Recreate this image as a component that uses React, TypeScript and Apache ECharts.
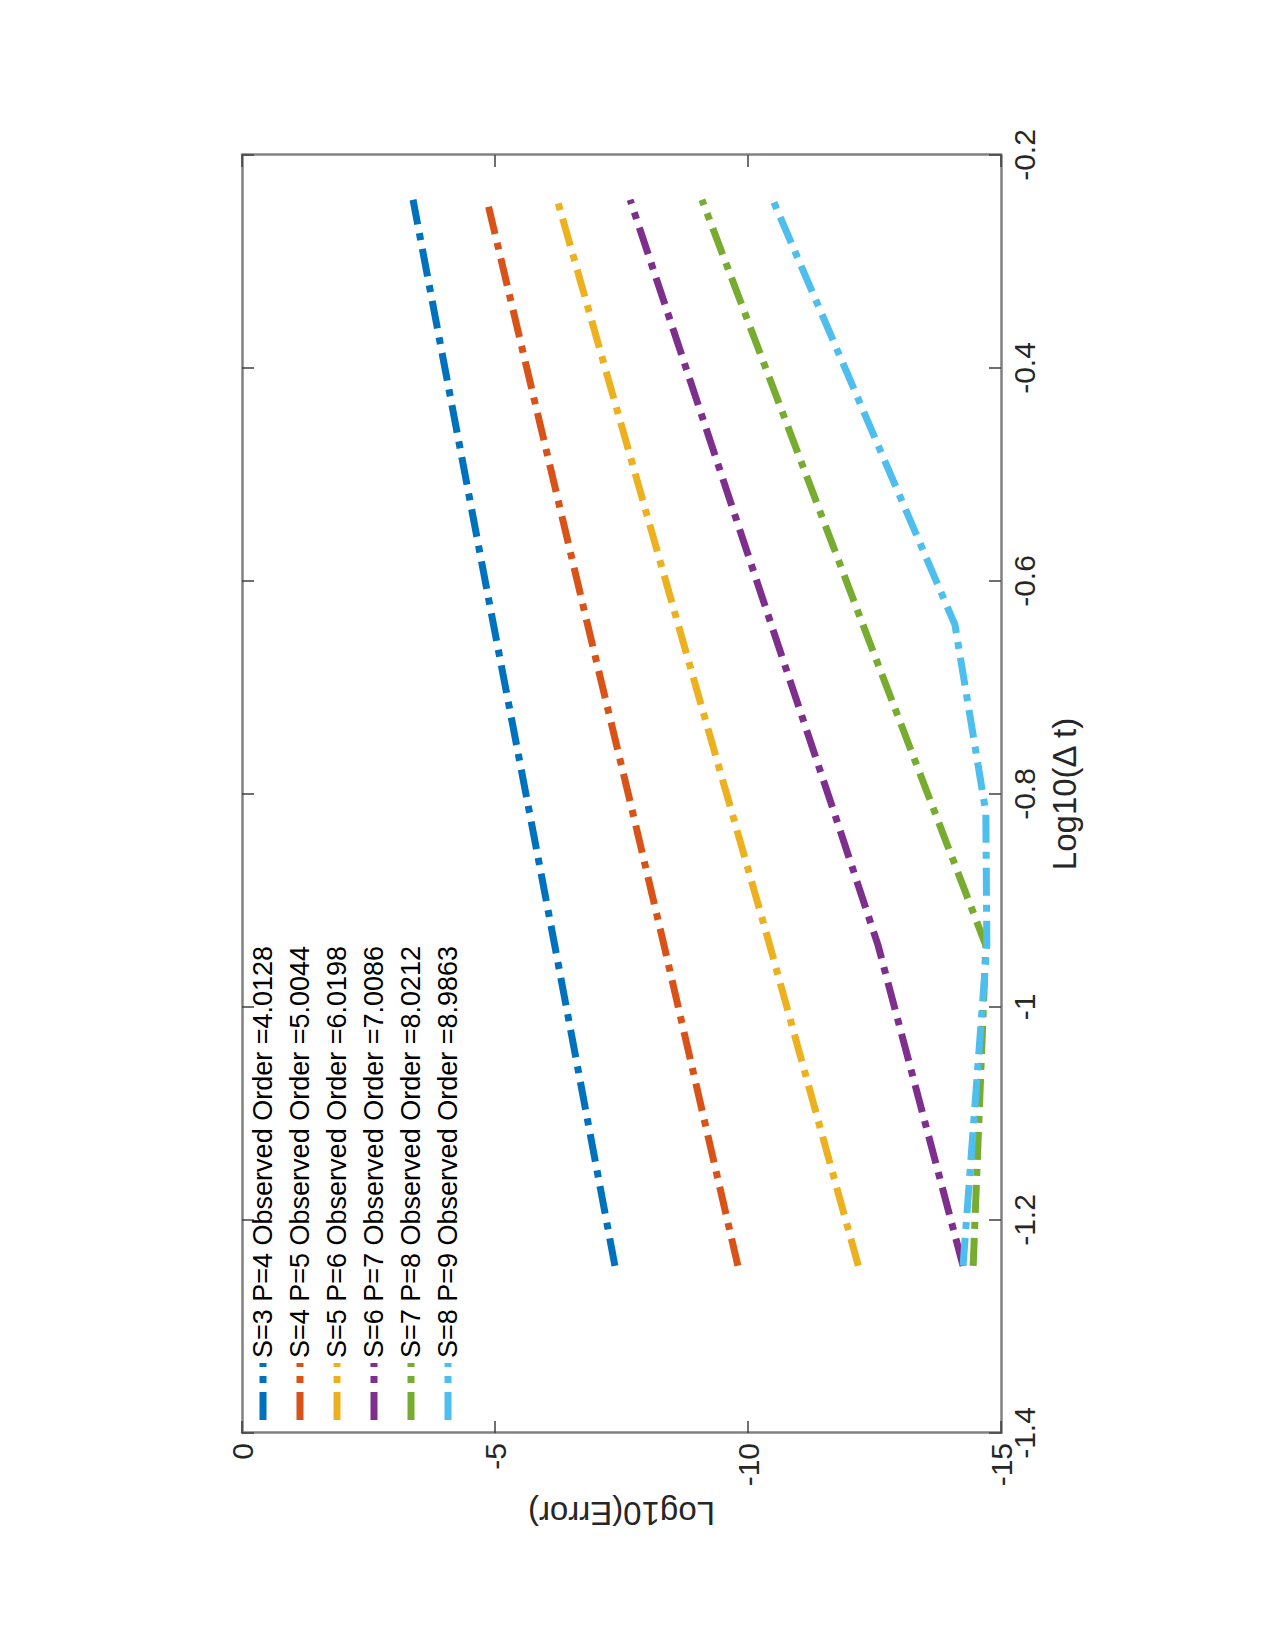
import React, { useEffect, useRef } from "react";
import * as echarts from "echarts";

// Log10(Δ t) sample points (ascending)
const logDt = [-1.243, -0.942, -0.817, -0.641, -0.242];

const seriesNames = [
  "S=3 P=4 Observed Order =4.0128",
  "S=4 P=5 Observed Order =5.0044",
  "S=5 P=6 Observed Order =6.0198",
  "S=6 P=7 Observed Order =7.0086",
  "S=7 P=8 Observed Order =8.0212",
  "S=8 P=9 Observed Order =8.9863",
];

// Log10(Error) values at each logDt point
const errS3 = [-7.37, -6.18, -5.68, -4.97, -3.38];
const errS4 = [-9.8, -8.34, -7.72, -6.83, -4.84];
const errS5 = [-12.18, -10.43, -9.68, -8.62, -6.23];
const errS6 = [-14.25, -12.57, -11.7, -10.46, -7.67];
const errS7 = [-14.45, -14.7, -13.69, -12.27, -9.09];
const errS8 = [-14.25, -14.72, -14.7, -14.09, -10.49];

const xTicksMin = -1.4;
const xTicksMax = -0.2;
const xTickStep = 0.2;
const yTicksMin = -15;
const yTicksMax = 0;
const yTickStep = 5;

const colors = ["#0072BD", "#D95319", "#EDB120", "#7E2F8E", "#77AC30", "#4DBEEE"];

const FONT = "'Liberation Sans', Arial, Helvetica, sans-serif";

const mkLine = () => ({ show: true, onZero: false, lineStyle: { color: "#808080", width: 2.5 } });
const mkTick = () => ({ show: true, inside: true, length: 12, lineStyle: { color: "#404040", width: 1.5 } });

export default function App() {
  const ref = useRef<HTMLDivElement>(null);

  useEffect(() => {
    if (!ref.current) return;
    const chart = echarts.init(ref.current, undefined, {
      renderer: "svg",
      width: 1650,
      height: 1275,
    });
    const allErr = [errS3, errS4, errS5, errS6, errS7, errS8];
    const option: any = {
      animation: false,
      backgroundColor: "#ffffff",
      textStyle: { fontFamily: FONT },
      grid: { left: 217, top: 242, width: 1278, height: 759, containLabel: false },
      legend: {
        orient: "vertical",
        left: 230,
        top: 248,
        icon: "path://M0 0H28V7H0Z M37 0H44V7H37Z M53 0H57V7H53Z",
        itemWidth: 57,
        itemHeight: 7,
        itemGap: 7,
        padding: 0,
        itemStyle: { borderWidth: 0 },
        textStyle: { fontSize: 27, lineHeight: 30, color: "#000", fontFamily: FONT },
        data: seriesNames,
      },
      xAxis: [
        {
          type: "value",
          min: xTicksMin,
          max: xTicksMax,
          interval: xTickStep,
          position: "bottom",
          name: "Log10(\u0394 t)",
          nameLocation: "middle",
          nameGap: 47,
          nameTextStyle: { fontSize: 33, color: "#262626", fontFamily: FONT },
          axisLine: mkLine(),
          axisTick: mkTick(),
          axisLabel: { fontSize: 30, color: "#262626", margin: 8, fontFamily: FONT },
          splitLine: { show: false },
        },
        {
          type: "value",
          min: xTicksMin,
          max: xTicksMax,
          interval: xTickStep,
          position: "top",
          axisLine: mkLine(),
          axisTick: mkTick(),
          axisLabel: { show: false },
          splitLine: { show: false },
        },
      ],
      yAxis: [
        {
          type: "value",
          min: yTicksMin,
          max: yTicksMax,
          interval: yTickStep,
          position: "left",
          name: "Log10(Error)",
          nameLocation: "middle",
          nameGap: 60,
          nameRotate: 90,
          nameTextStyle: { fontSize: 33, color: "#262626", fontFamily: FONT },
          axisLine: mkLine(),
          axisTick: mkTick(),
          axisLabel: { fontSize: 30, color: "#262626", margin: 10, fontFamily: FONT },
          splitLine: { show: false },
        },
        {
          type: "value",
          min: yTicksMin,
          max: yTicksMax,
          interval: yTickStep,
          position: "right",
          axisLine: mkLine(),
          axisTick: mkTick(),
          axisLabel: { show: false },
          splitLine: { show: false },
        },
      ],
      series: seriesNames.map((name, i) => ({
        name,
        type: "line",
        xAxisIndex: 0,
        yAxisIndex: 0,
        symbol: "none",
        showSymbol: false,
        color: colors[i],
        itemStyle: { color: colors[i] },
        lineStyle: { color: colors[i], width: 7, type: [28, 9, 7, 9], cap: "butt", join: "miter" },
        data: logDt.map((x, k) => [x, allErr[i][k]]),
      })),
    };
    chart.setOption(option);
    return () => chart.dispose();
  }, []);

  return (
    <div
      style={{
        position: "absolute",
        left: 0,
        top: 0,
        width: 1275,
        height: 1650,
        overflow: "hidden",
        background: "#ffffff",
      }}
    >
      <div
        ref={ref}
        style={{
          position: "absolute",
          left: 0,
          top: 0,
          width: 1650,
          height: 1275,
          transformOrigin: "0 0",
          transform: "translate(0px, 1650px) rotate(-90deg)",
        }}
      />
    </div>
  );
}
